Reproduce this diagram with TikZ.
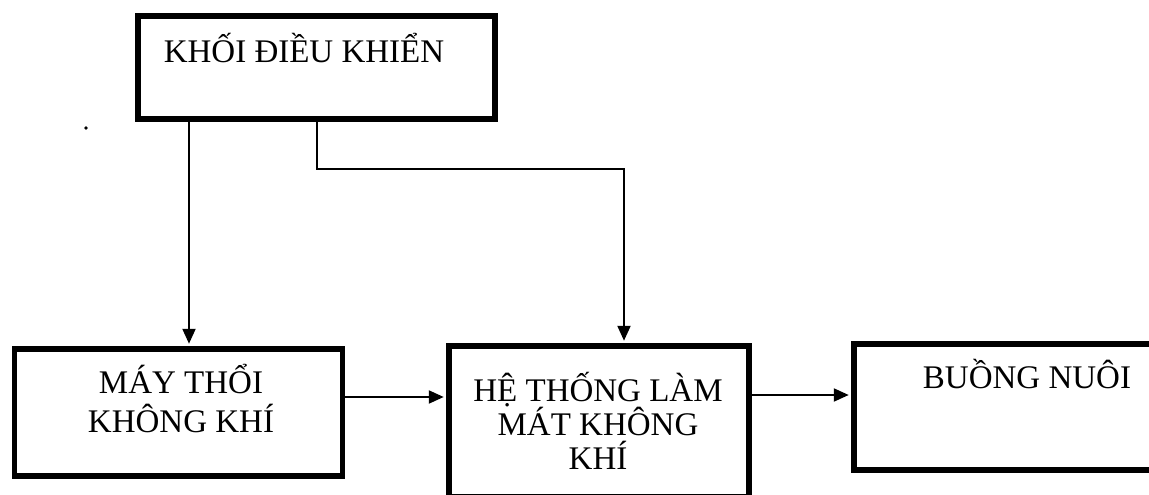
\documentclass[tikz,border=0pt]{standalone}
\usepackage{fontspec}
\setmainfont{Liberation Serif}
\usetikzlibrary{arrows.meta}

\begin{document}
\begin{tikzpicture}[x=1pt, y=-1pt]

      \tikzset{block/.style={draw, rectangle, line width=5.5pt, inner sep=0pt},
               blocktext/.style={font=\fontsize{33}{38}\selectfont, align=center, inner sep=0pt, anchor=base},
               link/.style={line width=2.2pt, shorten >=2.5pt, -{Triangle[length=15pt, width=13pt]}}}
      \useasboundingbox (0,0) rectangle (1149,495);
      \clip (0,0) rectangle (1149,495);
%% Blocks
      	\node[block, minimum width=357pt, minimum height=103pt] (ctrl) at (316.5,67.5) {};
      	\node[block, minimum width=328pt, minimum height=127pt] (blower) at (178.5,412.5) {};
      	\node[block, minimum width=300pt, minimum height=151pt] (cooler) at (599,421.5) {};
      	\node[block, minimum width=351pt, minimum height=126pt] (room) at (1029.5,407) {};
%% Texts (base = last line)
      	\node[blocktext] (ctrl text) at (304,63) {KHỐI ĐIỀU KHIỂN};
      	\node[blocktext, font=\fontsize{33}{39}\selectfont] (blower text) at (181,432) {MÁY THỔI\\KHÔNG KHÍ};
      	\node[blocktext, font=\fontsize{33}{34}\selectfont] (cooler text) at (598,469) {HỆ THỐNG LÀM\\MÁT KHÔNG\\KHÍ};
      	\node[blocktext] (room text) at (1027,388) {BUỒNG NUÔI};
      	\fill (86,128) circle (1.8pt);
%Connectors
      	\coordinate (ctrl left) at (189,119);
      	\coordinate (ctrl right) at (317,169);
      	\coordinate (cooler in) at (624,169);
      	\coordinate (row a) at (0,397);
      	\coordinate (row b) at (0,395);
		\path [link] (ctrl.south -| ctrl left) edge (blower.north -| ctrl left);
		\draw [link] (ctrl.south -| ctrl right) |- (cooler in) -- (cooler.north -| cooler in);
		\path [link] (blower.east |- row a) edge (cooler.west |- row a);
		\path [link] (cooler.east |- row b) edge (room.west |- row b);

	\end{tikzpicture}
\end{document}
